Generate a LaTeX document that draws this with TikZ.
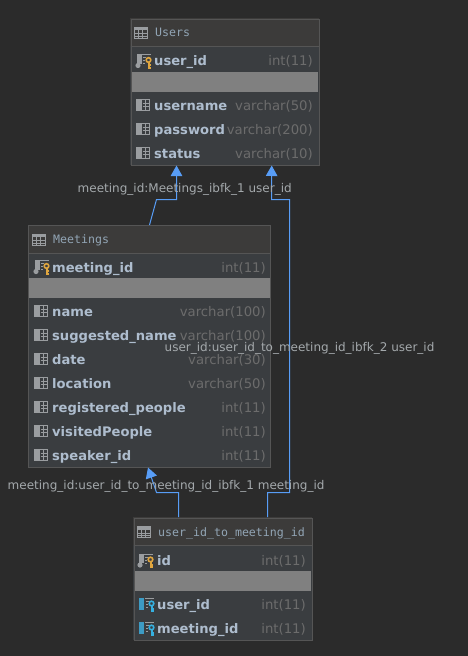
\documentclass[tikz,border=0pt]{standalone}
\usepackage{fontspec}
\setmainfont{DejaVu Sans}
\newfontfamily\monof{DejaVu Sans Mono}
\usetikzlibrary{arrows.meta}
\definecolor{bg}{HTML}{2B2B2B}
\definecolor{bodyc}{HTML}{3A3D40}
\definecolor{headc}{HTML}{3C3B3A}
\definecolor{edgec}{HTML}{555555}
\definecolor{sepc}{HTML}{808080}
\definecolor{namec}{HTML}{AEBDCE}
\definecolor{typec}{HTML}{6C6C6C}
\definecolor{labelc}{HTML}{A4A9AC}
\definecolor{titlec}{HTML}{92A5B5}
\definecolor{linkc}{HTML}{589DF6}
\definecolor{iconc}{HTML}{9A9DA0}
\definecolor{goldc}{HTML}{E0A63F}
\definecolor{fkc}{HTML}{3D9BC4}
\definecolor{fkkey}{HTML}{35B0E0}
\tikzset{
  x=1pt,y=-1pt,
  headband/.style={fill=headc,draw=edgec,line width=1pt},
  sepband/.style={fill=sepc},
  tableedge/.style={draw=edgec,line width=1pt,inner sep=0,anchor=north west},
  colname/.style={font=\fontsize{13.1}{16}\selectfont\bfseries,text=namec,anchor=base west,inner sep=0},
  coltype/.style={font=\fontsize{13.25}{16}\selectfont,text=typec,anchor=base east,inner sep=0},
  titletext/.style={font=\monof\fontsize{11.6}{14}\selectfont,text=titlec,anchor=base west,inner sep=0},
  linklabel/.style={font=\fontsize{12.0}{14}\selectfont,text=labelc,anchor=base west,inner sep=0},
  link/.style={draw=linkc,line width=1pt,-{Triangle[length=10.5pt,width=11.5pt,fill=linkc]}},
  tablegrid/.pic={
    \draw[iconc,line width=0.9pt] (0,-5.5) rectangle (13,5.5);
    \fill[iconc] (0,-5.5) rectangle (13,-2.5);
    \draw[iconc,line width=0.8pt] (0,1) -- (13,1) (0,3.5) -- (13,3.5) (4.5,-3) -- (4.5,5.5) (8.8,-3) -- (8.8,5.5);
  },
  colicon/.pic={
    \fill[iconc] (0,-6) rectangle (5.5,5.5);
    \draw[iconc,line width=0.9pt] (5.5,-5.5) -- (13.5,-5.5) -- (13.5,5) -- (5.5,5)
      (6.5,-2) -- (13.5,-2) (6.5,1.6) -- (13.5,1.6) (9.8,-5.5) -- (9.8,5);
  },
  pkicon/.pic={
    \fill[iconc] (2,-6.5) rectangle (6.5,3);
    \fill[iconc] (3,5) circle (2.6);
    \draw[iconc,line width=0.9pt] (7,-6) -- (16,-6) (8,-3) -- (11,-3) (8,0) -- (10,0) (8,3) -- (10,3);
    \draw[goldc,line width=1.6pt] (13.5,-0.5) circle (2.3);
    \draw[goldc,line width=2pt] (13.5,1.5) -- (13.5,7) -- (16,7) (13.5,4.5) -- (15.5,4.5);
  },
  fkicon/.pic={
    \fill[fkc] (0,-6.5) rectangle (5,5.5);
    \draw[iconc,line width=0.9pt] (6,-6) -- (15,-6) (7,-3) -- (10,-3) (7,0) -- (9,0) (7,3) -- (9,3);
    \draw[fkkey,line width=1.6pt] (12.5,-0.5) circle (2.3);
    \draw[fkkey,line width=2pt] (12.5,1.5) -- (12.5,7) -- (15,7) (12.5,4.5) -- (14.5,4.5);
  },
}
\begin{document}
\begin{tikzpicture}
\useasboundingbox[fill=bg] (0,0) rectangle (468,656);

% Users
\fill[bodyc] (130,18) rectangle (319,165);
\fill[headc] (130,18) rectangle (319,46);
\fill[sepband] (131,72) rectangle (318,92);
\draw[edgec,line width=1pt] (130.5,46) -- (318.5,46);
\node[tableedge,minimum width=188pt,minimum height=146pt] (users) at (130.5,18.5) {};
\pic at (134,32.5) {tablegrid};
\node[titletext] (usersT) at (155,36.5) {Users};
\pic at (135,60.5) {pkicon};
\node[colname] (u1) at (154,65.5) {user\_id};
\node[coltype] (u1t) at (313,65.5) {int(11)};
\pic at (136,105) {colicon};
\node[colname] (u2) at (154,110) {username};
\node[coltype] (u2t) at (313,110) {varchar(50)};
\pic at (136,129) {colicon};
\node[colname] (u3) at (154,134) {password};
\node[coltype] (u3t) at (313,134) {varchar(200)};
\pic at (136,153) {colicon};
\node[colname] (u4) at (154,158) {status};
\node[coltype] (u4t) at (313,158) {varchar(10)};

% Meetings
\fill[bodyc] (28,225) rectangle (271,467);
\fill[headc] (28,225) rectangle (271,253);
\fill[sepband] (29,278) rectangle (270,298);
\draw[edgec,line width=1pt] (28.5,253) -- (270.5,253);
\node[tableedge,minimum width=242pt,minimum height=242pt] (meetings) at (28,225) {};
\pic at (32,239.5) {tablegrid};
\node[titletext] (meetT) at (53,243) {Meetings};
\pic at (33,266.5) {pkicon};
\node[colname] (m1) at (52,272) {meeting\_id};
\node[coltype] (m1t) at (266,272) {int(11)};
\pic at (34,311) {colicon};
\node[colname] (m2) at (52,316) {name};
\node[coltype] (m2t) at (266,316) {varchar(100)};
\pic at (34,335) {colicon};
\node[colname] (m3) at (52,340) {suggested\_name};
\node[coltype] (m3t) at (266,340) {varchar(100)};
\pic at (34,359) {colicon};
\node[colname] (m4) at (52,364) {date};
\node[coltype] (m4t) at (266,364) {varchar(30)};
\pic at (34,383) {colicon};
\node[colname] (m5) at (52,388) {location};
\node[coltype] (m5t) at (266,388) {varchar(50)};
\pic at (34,407) {colicon};
\node[colname] (m6) at (52,412) {registered\_people};
\node[coltype] (m6t) at (266,412) {int(11)};
\pic at (34,431) {colicon};
\node[colname] (m7) at (52,436) {visitedPeople};
\node[coltype] (m7t) at (266,436) {int(11)};
\pic at (34,455) {colicon};
\node[colname] (m8) at (52,460) {speaker\_id};
\node[coltype] (m8t) at (266,460) {int(11)};

% user_id_to_meeting_id
\fill[bodyc] (133,517) rectangle (312,640);
\fill[headc] (133,517) rectangle (312,545);
\fill[sepband] (134,571) rectangle (311,591);
\draw[edgec,line width=1pt] (133.5,545.5) -- (311.5,545.5);
\node[tableedge,minimum width=178pt,minimum height=122.5pt] (link) at (133.5,517.5) {};
\pic at (137,532) {tablegrid};
\node[titletext] (linkT) at (158,536) {user\_id\_to\_meeting\_id};
\pic at (137,560) {pkicon};
\node[colname] (l1) at (157,565) {id};
\node[coltype] (l1t) at (306,565) {int(11)};
\pic at (139,604) {fkicon};
\node[colname] (l2) at (157,609) {user\_id};
\node[coltype] (l2t) at (306,609) {int(11)};
\pic at (139,628) {fkicon};
\node[colname] (l3) at (157,633) {meeting\_id};
\node[coltype] (l3t) at (306,633) {int(11)};

% connector ends
\coordinate (a1) at (149.5,225);
\coordinate (a2) at (156.5,199.5);
\coordinate (a3) at (176.5,199.5);
\coordinate (a4) at (176.5,165.5);
\coordinate (b1) at (267.5,517);
\coordinate (b2) at (267.5,492.5);
\coordinate (b3) at (289.5,492.5);
\coordinate (b4) at (289.5,199.5);
\coordinate (b5) at (271.5,199.5);
\coordinate (b6) at (271.7,165.5);
\coordinate (c1) at (178.5,517);
\coordinate (c2) at (178.5,492.5);
\coordinate (c3) at (156.5,492.5);
\coordinate (c4) at (148,467.5);
\draw[link] (a1) -- (a2) -- (a3) -- (a4);
\draw[link] (b1) -- (b2) -- (b3) -- (b4) -- (b5) -- (b6);
\draw[link] (c1) -- (c2) -- (c3) -- (c4);

% connector labels
\node[linklabel] (la) at (77.5,192) {meeting\_id:Meetings\_ibfk\_1 user\_id};
\node[linklabel] (lb) at (164.5,351) {user\_id:user\_id\_to\_meeting\_id\_ibfk\_2 user\_id};
\node[linklabel] (lc) at (7.5,489) {meeting\_id:user\_id\_to\_meeting\_id\_ibfk\_1 meeting\_id};
\end{tikzpicture}
\end{document}
